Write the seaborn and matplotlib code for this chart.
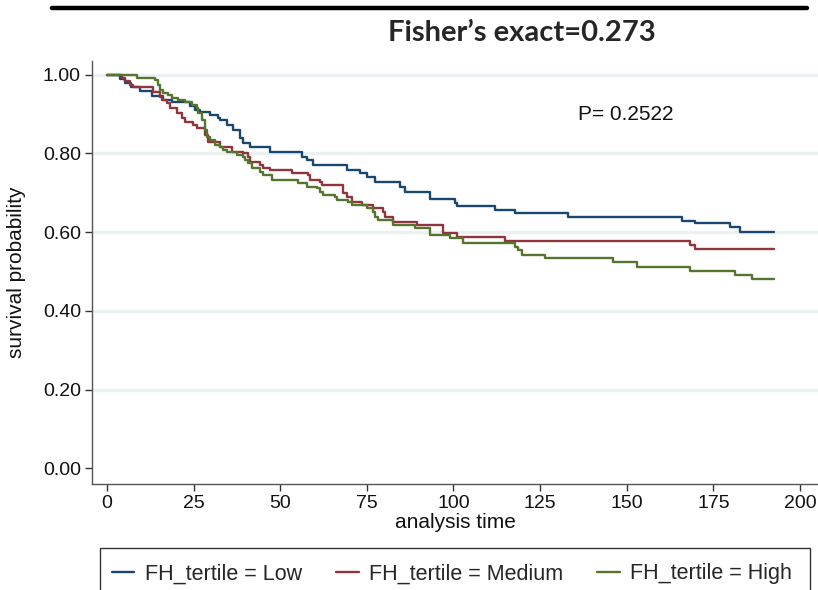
import numpy as np
import pandas as pd
import matplotlib
matplotlib.use("Agg")
import matplotlib.pyplot as plt
from matplotlib.lines import Line2D
from matplotlib.patches import Rectangle
import seaborn as sns

# Kaplan-Meier step estimates by FH tertile (time, survival)
low_time = [0, 3.8, 5.2, 6.9, 9.5, 13.0, 16.2, 18.8, 24.0, 25.4, 26.8, 29.7, 32.0,
            32.6, 34.6, 36.4, 38.4, 39.3, 41.3, 47.0, 56.3, 57.7, 59.5, 69.3, 73.0,
            75.0, 77.3, 84.6, 86.0, 93.2, 100.4, 101.0, 112.0, 117.7, 133.0, 165.9,
            169.7, 179.8, 182.7, 192.5]
low_surv = [1.0, 0.99, 0.98, 0.97, 0.96, 0.945, 0.935, 0.93, 0.92, 0.91, 0.905, 0.898,
            0.89, 0.885, 0.873, 0.86, 0.84, 0.827, 0.817, 0.805, 0.79, 0.784, 0.77,
            0.758, 0.75, 0.74, 0.728, 0.715, 0.702, 0.685, 0.674, 0.667, 0.656, 0.649,
            0.639, 0.628, 0.623, 0.613, 0.60, 0.60]

med_time = [0, 4.3, 5.2, 6.6, 7.5, 13.3, 15.3, 15.9, 17.3, 18.2, 20.2, 21.6, 22.5,
            24.8, 26.0, 28.3, 29.1, 32.6, 36.1, 39.3, 40.7, 41.3, 44.2, 45.0, 47.0,
            53.4, 58.0, 58.6, 61.5, 62.0, 68.1, 69.3, 70.7, 73.6, 76.8, 79.7, 80.2,
            82.5, 89.5, 97.0, 101.0, 114.9, 168.3, 169.7, 192.5]
med_surv = [1.0, 0.993, 0.985, 0.975, 0.97, 0.957, 0.944, 0.936, 0.929, 0.916, 0.903,
            0.89, 0.88, 0.873, 0.865, 0.847, 0.83, 0.817, 0.804, 0.80, 0.79, 0.778,
            0.771, 0.763, 0.758, 0.75, 0.745, 0.733, 0.728, 0.72, 0.70, 0.69, 0.677,
            0.669, 0.662, 0.651, 0.639, 0.626, 0.618, 0.598, 0.588, 0.578, 0.567,
            0.557, 0.557]

high_time = [0, 8.7, 13.9, 14.7, 15.3, 16.2, 17.6, 18.8, 20.5, 22.5, 24.5, 26.0, 26.3,
             27.4, 28.3, 28.9, 29.7, 31.2, 32.6, 33.5, 34.6, 37.5, 39.3, 39.8, 40.7,
             41.8, 44.2, 45.0, 47.6, 55.1, 57.7, 60.6, 61.5, 62.3, 65.8, 66.4, 69.6,
             70.7, 75.0, 76.8, 77.3, 78.2, 82.5, 88.9, 93.2, 99.0, 102.7, 117.7, 118.6,
             119.8, 126.4, 146.0, 153.0, 168.3, 181.2, 186.1, 192.5]
high_surv = [1.0, 0.992, 0.987, 0.975, 0.962, 0.954, 0.949, 0.941, 0.936, 0.931, 0.924,
             0.916, 0.903, 0.885, 0.86, 0.842, 0.835, 0.822, 0.817, 0.809, 0.804, 0.796,
             0.791, 0.784, 0.776, 0.763, 0.753, 0.745, 0.733, 0.725, 0.715, 0.712,
             0.702, 0.695, 0.69, 0.682, 0.677, 0.669, 0.662, 0.651, 0.639, 0.631,
             0.618, 0.611, 0.593, 0.585, 0.572, 0.562, 0.555, 0.542, 0.534, 0.524,
             0.511, 0.501, 0.491, 0.48, 0.48]

group_labels = ["FH_tertile = Low", "FH_tertile = Medium", "FH_tertile = High"]
group_colors = ["#1a476f", "#90353b", "#55752f"]
x_ticks = [0, 25, 50, 75, 100, 125, 150, 175, 200]
y_ticks = [0.0, 0.2, 0.4, 0.6, 0.8, 1.0]
title_text = "Fisher\u2019s exact=0.273"
p_text = "P= 0.2522"

frames = []
for lab, t, s in zip(group_labels, [low_time, med_time, high_time],
                     [low_surv, med_surv, high_surv]):
    frames.append(pd.DataFrame({"time": t, "surv": s, "group": lab}))
df = pd.concat(frames, ignore_index=True)

sns.set_theme(style="white")
plt.rcParams["font.family"] = ["Liberation Sans Narrow", "Liberation Sans", "DejaVu Sans"]

W, H = 818, 590
fig = plt.figure(figsize=(W / 100, H / 100), dpi=100)
ax = fig.add_axes([92 / W, 106 / H, 726 / W, 423 / H])

sns.lineplot(data=df, x="time", y="surv", hue="group", hue_order=group_labels,
             palette=group_colors, estimator=None, drawstyle="steps-post",
             linewidth=1.7, ax=ax, legend=False, zorder=3)

ax.set_xlim(-4.33, 205.2)
ax.set_ylim(-0.04, 1.035)
ax.set_xticks(x_ticks)
ax.set_xticklabels([str(v) for v in x_ticks])
ax.set_yticks(y_ticks)
ax.set_yticklabels([f"{v:.2f}" for v in y_ticks])

# light horizontal reference lines, none at zero
ax.yaxis.grid(True, color="#eaf1f2", linewidth=2.4, zorder=0)
ax.xaxis.grid(False)
ax.get_ygridlines()[0].set_visible(False)

for side in ["top", "right"]:
    ax.spines[side].set_visible(False)
for side in ["left", "bottom"]:
    ax.spines[side].set_color("#555555")
    ax.spines[side].set_linewidth(1.0)
ax.tick_params(axis="both", which="major", direction="out", length=5, width=1.0,
               color="#333333", labelsize=14, labelcolor="#111111", pad=3,
               left=True, bottom=True)

ax.set_xlabel("analysis time", fontsize=15, color="#111111", labelpad=1)
ax.set_ylabel("survival probability", fontsize=15, color="#111111", labelpad=12)

ax.text(136, 0.898, p_text, fontsize=15, color="#111111", ha="left", va="center",
        family=["Liberation Sans", "DejaVu Sans"])

# title and rule above it
fig.add_artist(Line2D([52 / W, 807 / W], [1 - 8 / H, 1 - 8 / H],
                      color="black", linewidth=3.2))
fig.text(522 / W, 1 - 33 / H, title_text, ha="center", va="center",
         fontsize=21, fontweight="bold", family=["Lato", "DejaVu Sans"])

# legend box running past the lower edge of the figure
fig.add_artist(Rectangle((100 / W, -12 / H), 710 / W, (590 - 548 + 12) / H,
                         transform=fig.transFigure, facecolor="white",
                         edgecolor="#333333", linewidth=1.0, clip_on=False))
handles = [Line2D([0], [0], color=c, linewidth=1.7) for c in group_colors]
leg = fig.legend(handles, group_labels, loc="center left", ncol=3,
                 bbox_to_anchor=(100 / W, 1 - 574 / H),
                 frameon=False, fontsize=15.5,
                 handlelength=1.05, handletextpad=0.47, borderpad=0.55,
                 columnspacing=1.6, borderaxespad=0)

fig.savefig("out.png", dpi=100)
